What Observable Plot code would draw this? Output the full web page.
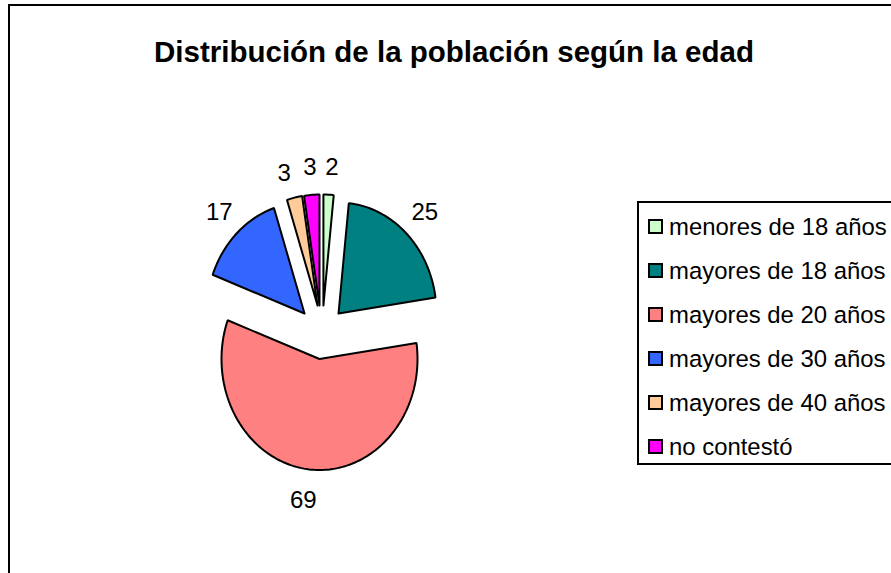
<!DOCTYPE html>
<html><head><meta charset="utf-8">
<script src="https://cdn.jsdelivr.net/npm/d3@7"></script>
<script src="https://cdn.jsdelivr.net/npm/@observablehq/plot@0.6"></script>
<style>
html,body{margin:0;padding:0;background:#fff;overflow:hidden}
#page{position:relative;width:891px;height:573px;font-family:"Liberation Sans",Arial,sans-serif;color:#000}
#frame{position:absolute;left:8px;top:4px;width:900px;height:600px;border:2px solid #000;box-sizing:border-box}
#title{position:absolute;left:0;width:908px;top:36px;text-align:center;font-weight:bold;font-size:29.5px;line-height:32px;white-space:nowrap}
#chart{position:absolute;left:0;top:0}
#legend{position:absolute;left:637px;top:201px;width:270px;height:264px;border:2px solid #000;box-sizing:border-box;background:#fff}
.row{position:absolute;left:9px;font-size:23.9px;line-height:24px;white-space:nowrap;color:#000}
.sw{position:absolute;left:0;top:4px;width:15px;height:15px;border:2px solid #000;box-sizing:border-box}
.lb{position:absolute;left:21px;top:0}
</style></head>
<body><div id="page"><div id="frame"></div><div id="chart"></div><div id="title"></div><div id="legend"></div></div>
<script>
const chartTitle = "Distribución de la población según la edad";
const categories = ["menores de 18 años","mayores de 18 años","mayores de 20 años","mayores de 30 años","mayores de 40 años","no contestó"];
const values = [2,25,69,17,3,3];
const colors = ["#ccffcc","#008080","#ff8080","#3366ff","#ffcc99","#ff00ff"];
// exploded-slice displacement, in pie radii
const shiftX = [0.04,0.194,0,-0.153,-0.02,0];
const shiftY = [0.117,0.045,-0.365,0.045,0.117,0.117];
const labelDistance = [1.25,1.27,1.28,1.27,1.23,1.25];
const labelNudgeX = [0.02,0,-0.03,0.01,-0.05,0];

const total = d3.sum(values);
let cum = 0;
const outline = [], labels = [];
values.forEach((v,i)=>{
  const a0 = cum/total*2*Math.PI; cum += v;
  const a1 = cum/total*2*Math.PI;
  const n = Math.max(4,Math.ceil(v*2));
  outline.push({cat:categories[i],x:shiftX[i],y:shiftY[i]});
  d3.range(n+1).forEach(k=>{
    const a = a0+(a1-a0)*k/n;
    outline.push({cat:categories[i],x:shiftX[i]+Math.sin(a),y:shiftY[i]+Math.cos(a)});
  });
  outline.push({cat:categories[i],x:shiftX[i],y:shiftY[i]});
  const m=(a0+a1)/2;
  labels.push({v,x:shiftX[i]+labelNudgeX[i]+labelDistance[i]*Math.sin(m),y:shiftY[i]+labelDistance[i]*Math.cos(m)});
});

const plot = Plot.plot({
  width:891,height:573,margin:0,
  style:{background:"transparent",fontFamily:'"Liberation Sans",Arial,sans-serif'},
  x:{domain:[-1,1],range:[221,417],axis:null},
  y:{domain:[-1,1],range:[429,207],axis:null},
  color:{domain:categories,range:colors},
  marks:[
    Plot.line(outline,{x:"x",y:"y",z:"cat",fill:"cat",stroke:"#000",strokeWidth:2,strokeLinejoin:"miter",curve:"linear"}),
    Plot.text(labels,{x:"x",y:"y",text:d=>String(d.v),fontSize:24,fill:"#000"})
  ]
});
document.getElementById("chart").appendChild(plot);
document.getElementById("title").textContent = chartTitle;
const leg = document.getElementById("legend");
categories.forEach((c,i)=>{
  const r=document.createElement("div"); r.className="row"; r.style.top=(12+i*44)+"px";
  const s=document.createElement("div"); s.className="sw"; s.style.background=colors[i];
  const t=document.createElement("span"); t.className="lb"; t.textContent=c;
  r.append(s,t); leg.appendChild(r);
});
</script></body></html>
